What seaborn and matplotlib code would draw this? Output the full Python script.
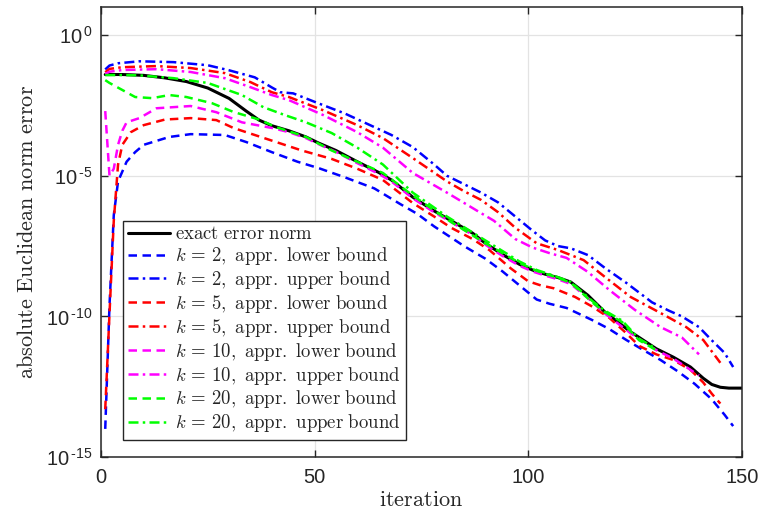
import numpy as np
import pandas as pd
import matplotlib
matplotlib.use("Agg")
import matplotlib.pyplot as plt
import seaborn as sns
from matplotlib.ticker import FixedLocator, NullLocator

# ---------------- data (log10 of error) ----------------
exact_it = [1, 5, 10, 15, 20, 25, 30, 34, 37, 40, 44, 48, 51, 55, 60, 65, 68, 73, 78, 82,
            87, 90, 94, 98, 101, 104, 107, 110, 114, 118, 121, 124, 127, 130, 134, 138,
            141, 143, 145, 147, 150]
exact_lg = [-1.40, -1.40, -1.43, -1.52, -1.65, -1.88, -2.25, -2.70, -3.02, -3.22, -3.40,
            -3.62, -3.84, -4.10, -4.50, -4.88, -5.15, -5.76, -6.25, -6.60, -7.04, -7.40,
            -7.80, -8.15, -8.35, -8.50, -8.62, -8.78, -9.25, -9.85, -10.20, -10.55, -10.85,
            -11.15, -11.45, -11.80, -12.20, -12.42, -12.52, -12.55, -12.55]

k2_low_it = [1, 2, 3, 4, 6, 8, 10, 16, 21, 29, 34, 40, 46, 51, 57, 64, 70, 74, 78, 81, 85,
             90, 94, 98, 102, 105, 109, 115, 119, 123, 127, 131, 135, 139, 143, 146, 148]
k2_low_lg = [-14.0, -9.6, -6.4, -5.2, -4.5, -4.16, -3.9, -3.62, -3.52, -3.55, -3.8, -4.16,
             -4.5, -4.73, -5.05, -5.45, -6.0, -6.35, -6.8, -7.1, -7.5, -7.95, -8.4, -8.9,
             -9.4, -9.55, -9.7, -10.13, -10.45, -10.84, -11.2, -11.55, -11.95, -12.4,
             -12.95, -13.5, -13.9]

k2_up_it = [1, 2, 4, 9, 17, 25, 30, 36, 40, 42, 45, 51, 57, 63, 68, 73, 78, 81, 85, 89, 93,
            97, 101, 104, 107, 110, 114, 118, 123, 129, 133, 136, 140, 143, 146, 148]
k2_up_lg = [-1.22, -1.08, -1.0, -0.93, -0.96, -1.07, -1.25, -1.5, -1.86, -2.03, -2.07,
            -2.43, -2.78, -3.2, -3.55, -3.98, -4.6, -5.0, -5.3, -5.6, -5.95, -6.45, -6.95,
            -7.3, -7.5, -7.58, -7.82, -8.28, -8.81, -9.5, -9.8, -10.0, -10.38, -10.85,
            -11.3, -11.8]

k5_low_it = [1, 2, 3, 4, 5, 7, 10, 15, 21, 27, 31, 36, 41, 47, 54, 60, 66, 73, 78, 82, 87,
             91, 96, 100, 103, 106, 111, 115, 119, 123, 126, 130, 134, 138, 141, 143, 145]
k5_low_lg = [-13.3, -9.9, -6.6, -4.6, -3.9, -3.45, -3.2, -3.0, -2.95, -3.02, -3.3, -3.55,
             -3.8, -4.1, -4.4, -4.75, -5.15, -5.97, -6.45, -6.85, -7.25, -7.65, -8.3,
             -8.75, -8.9, -9.0, -9.31, -9.65, -10.05, -10.6, -11.05, -11.35, -11.55,
             -11.9, -12.35, -12.75, -13.1]

k5_up_it = [1, 2, 5, 13, 21, 29, 35, 40, 44, 52, 60, 66, 73, 81, 85, 89, 93, 97, 102, 107,
            113, 118, 124, 131, 137, 141, 145]
k5_up_lg = [-1.32, -1.2, -1.14, -1.1, -1.17, -1.35, -1.67, -2.03, -2.2, -2.67, -3.2, -3.66,
            -4.37, -5.2, -5.55, -5.86, -6.3, -6.85, -7.4, -7.64, -8.0, -8.6, -9.31, -9.88,
            -10.38, -10.84, -11.65]

k10_low_it = [1, 2, 3, 4, 5, 6, 9, 13, 21, 27, 33, 40, 44, 48, 51, 55, 60, 65, 68, 73, 78,
              82, 87, 90, 94, 98, 101, 104, 107, 110, 114, 118, 121, 124, 127, 130, 134,
              138, 140]
k10_low_lg = [-2.7, -5.0, -4.75, -3.9, -3.4, -3.1, -2.95, -2.6, -2.52, -2.74, -3.1, -3.3,
              -3.45, -3.66, -3.88, -4.15, -4.55, -4.93, -5.2, -5.8, -6.3, -6.65, -7.1,
              -7.45, -7.85, -8.2, -8.4, -8.55, -8.68, -8.85, -9.35, -9.9, -10.25, -10.6,
              -10.9, -11.2, -11.5, -11.9, -12.1]

k10_up_it = [1, 2, 5, 13, 21, 29, 35, 40, 44, 52, 60, 66, 73, 81, 89, 92, 97, 101, 105, 109,
             114, 119, 125, 131, 136, 140]
k10_up_lg = [-1.38, -1.3, -1.24, -1.21, -1.31, -1.53, -1.85, -2.13, -2.31, -2.84, -3.45,
             -4.0, -4.9, -5.6, -6.33, -6.6, -7.25, -7.55, -7.75, -7.92, -8.42, -9.06,
             -9.77, -10.38, -10.75, -11.35]

k20_low_it = [1, 2, 5, 8, 12, 16, 20, 26, 31, 37, 41, 48, 54, 60, 66, 73, 81, 90, 98, 102,
              106, 110, 115, 118, 122, 126, 130]
k20_low_lg = [-1.6, -1.7, -1.95, -2.2, -2.24, -2.13, -2.2, -2.42, -2.73, -3.0, -3.27, -3.62,
              -4.1, -4.5, -4.9, -5.7, -6.55, -7.4, -8.1, -8.38, -8.58, -8.8, -9.5, -9.85,
              -10.2, -10.85, -11.2]

k20_up_it = [1, 5, 9, 17, 25, 33, 38, 43, 48, 54, 60, 66, 73, 81, 90, 98, 102, 106, 110,
             115, 118, 122, 126, 130]
k20_up_lg = [-1.42, -1.42, -1.43, -1.53, -1.7, -2.13, -2.56, -2.84, -3.1, -3.48, -4.0,
             -4.6, -5.6, -6.45, -7.3, -8.05, -8.35, -8.55, -8.78, -9.45, -9.8, -10.15,
             -10.8, -11.15]

labels = [r"$\mathrm{exact\ error\ norm}$",
          r"$k\,=\,2,\ \mathrm{appr.\ lower\ bound}$",
          r"$k\,=\,2,\ \mathrm{appr.\ upper\ bound}$",
          r"$k\,=\,5,\ \mathrm{appr.\ lower\ bound}$",
          r"$k\,=\,5,\ \mathrm{appr.\ upper\ bound}$",
          r"$k\,=\,10,\ \mathrm{appr.\ lower\ bound}$",
          r"$k\,=\,10,\ \mathrm{appr.\ upper\ bound}$",
          r"$k\,=\,20,\ \mathrm{appr.\ lower\ bound}$",
          r"$k\,=\,20,\ \mathrm{appr.\ upper\ bound}$"]
xticks = [0, 50, 100, 150]
yticks_exp = [0, -5, -10, -15]
xlabel = r"$\mathrm{iteration}$"
ylabel = r"$\mathrm{absolute\ Euclidean\ norm\ error}$"

# ---------------- style ----------------
sns.set_style("ticks")
plt.rcParams["font.family"] = ["Liberation Sans", "DejaVu Sans"]
plt.rcParams["mathtext.fontset"] = "cm"
plt.rcParams["mathtext.rm"] = "Liberation Sans"
plt.rcParams["mathtext.it"] = "Liberation Sans:italic"
plt.rcParams["mathtext.bf"] = "Liberation Sans:bold"

DASH = (0, (3.4, 2.2))
DASHDOT = (0, (4.0, 1.7, 1.0, 1.7))
series = [
    (exact_it, exact_lg, "black", "-", 2.2),
    (k2_low_it, k2_low_lg, "#0000ff", DASH, 1.8),
    (k2_up_it, k2_up_lg, "#0000ff", DASHDOT, 1.8),
    (k5_low_it, k5_low_lg, "#ff0000", DASH, 1.8),
    (k5_up_it, k5_up_lg, "#ff0000", DASHDOT, 1.8),
    (k10_low_it, k10_low_lg, "#ff00ff", DASH, 1.8),
    (k10_up_it, k10_up_lg, "#ff00ff", DASHDOT, 1.8),
    (k20_low_it, k20_low_lg, "#00ff00", DASH, 1.8),
    (k20_up_it, k20_up_lg, "#00ff00", DASHDOT, 1.8),
]

fig = plt.figure(figsize=(7.58, 5.16), dpi=100)
ax = fig.add_axes([0.1332, 0.1143, 0.8453, 0.8721])
ax.set_yscale("log")

for (it, lg, col, ls, lw), lab in zip(series, labels):
    df = pd.DataFrame({"iteration": it, "err": np.power(10.0, lg)})
    sns.lineplot(data=df, x="iteration", y="err", ax=ax, color=col, linestyle=ls,
                 linewidth=lw, label=lab, estimator=None, sort=False)

ax.set_xlim(0, 150)
ax.set_ylim(1e-15, 1e1)
ax.xaxis.set_major_locator(FixedLocator(xticks))
ax.set_xticklabels([str(v) for v in xticks])
ax.yaxis.set_major_locator(FixedLocator([10.0 ** e for e in yticks_exp]))
ax.yaxis.set_minor_locator(NullLocator())
ax.xaxis.set_minor_locator(NullLocator())
ax.set_yticklabels([r"$10^{\,\text{%d}}$" % e for e in yticks_exp])
for t in ax.get_yticklabels():
    t.set_math_fontfamily("custom")

ax.tick_params(axis="both", which="major", direction="in", length=5, width=1.0,
               color="#262626", labelcolor="#262626", labelsize=14.5,
               top=True, right=True)
ax.tick_params(axis="x", pad=8)
ax.tick_params(axis="y", pad=6)
for s in ax.spines.values():
    s.set_color("#262626")
    s.set_linewidth(1.1)
ax.grid(True, color="#e3e3e3", linewidth=0.9)
ax.set_axisbelow(True)

ax.set_xlabel(xlabel, fontsize=16, color="#262626", labelpad=2)
ax.set_ylabel(ylabel, fontsize=16, color="#262626", labelpad=6)

leg = ax.legend(loc="lower left", bbox_to_anchor=(0.034, 0.038), borderaxespad=0,
                fontsize=13.5, frameon=True, fancybox=False, framealpha=1,
                edgecolor="#262626", handlelength=2.2, handletextpad=0.3,
                labelspacing=0.1, borderpad=0.3)
leg.get_frame().set_linewidth(1.0)

fig.savefig("out.png", dpi=100)
